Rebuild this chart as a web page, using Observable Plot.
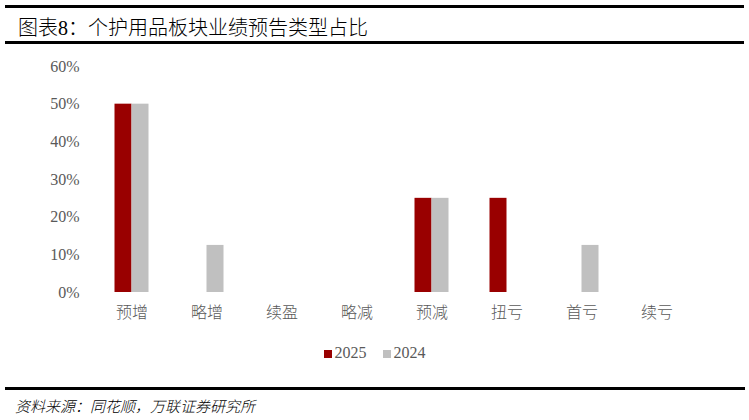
<!DOCTYPE html>
<html>
<head>
<meta charset="utf-8">
<script src="https://cdn.jsdelivr.net/npm/d3@7"></script>
<script src="https://cdn.jsdelivr.net/npm/@observablehq/plot@0.6"></script>
<style>
  html, body { margin: 0; padding: 0; background: #fff; }
  #wrap { position: relative; width: 749px; height: 420px; overflow: hidden; font-family: "Liberation Serif", "Noto Sans CJK SC", serif; }
  #title { position: absolute; left: 5px; top: 5px; width: 739px; height: 33px; border-top: 3px solid #000; border-bottom: 3px solid #000; box-sizing: content-box; }
  #title span { position: absolute; left: 13px; top: 4px; font-size: 20px; font-weight: 300; color: #000; font-family: "Liberation Serif", "Noto Sans CJK SC", serif; white-space: nowrap; }
  #chart { position: absolute; left: 0; top: 45px; }
  #chart svg g[aria-label="y-axis tick label"] text { font-family: "Liberation Serif", serif; }
  #legend { position: absolute; top: 344px; left: 0; width: 749px; text-align: center; font-size: 16px; color: #595959; font-family: "Liberation Serif", serif; }
  #legend .sw { display: inline-block; width: 8px; height: 8px; margin-right: 3px; vertical-align: 0px; }
  #legend .item { margin: 0 8px; }
  #footer { position: absolute; left: 5px; top: 387px; width: 740px; border-top: 3px solid #000; }
  #source { position: absolute; left: 15px; top: 395px; font-size: 15px; font-style: italic; font-weight: 300; color: #000; font-family: "Noto Sans CJK SC", sans-serif; white-space: nowrap; }
</style>
</head>
<body>
<div id="wrap">
  <div id="title"><span>图表8：个护用品板块业绩预告类型占比</span></div>
  <div id="chart"></div>
  <div id="legend"></div>
  <div id="footer"></div>
  <div id="source">资料来源：同花顺，万联证券研究所</div>
</div>
<script>
const categories = ["预增", "略增", "续盈", "略减", "预减", "扭亏", "首亏", "续亏"];
const seriesNames = ["2025", "2024"];
const values2025 = [0.50, 0, 0, 0, 0.25, 0.25, 0, 0];
const values2024 = [0.50, 0.125, 0, 0, 0.25, 0, 0.125, 0];
const yTicks = [0, 0.1, 0.2, 0.3, 0.4, 0.5, 0.6];
const colors = ["#990000", "#C0C0C0"];

const data = [];
categories.forEach((c, i) => {
  data.push({category: c, series: seriesNames[0], value: values2025[i]});
  data.push({category: c, series: seriesNames[1], value: values2024[i]});
});

const plot = Plot.plot({
  width: 749,
  height: 290,
  marginTop: 21,
  marginBottom: 43,
  marginLeft: 93.5,
  marginRight: 55.5,
  style: { fontFamily: '"Liberation Serif", "Noto Sans CJK SC", serif', fontSize: "16px", color: "#595959", background: "#fff" },
  fx: { domain: categories, padding: 0, label: null },
  x: { domain: seriesNames, paddingInner: 0, paddingOuter: 1.143, axis: null },
  y: { domain: [0, 0.6], label: null },
  color: { domain: seriesNames, range: colors },
  marks: [
    Plot.axisY({ ticks: yTicks, tickFormat: d => Math.round(d * 100) + "%", tickSize: 0, tickPadding: 15, label: null, fill: "#595959", fontFamily: "Liberation Serif", fontSize: 16 }),
    Plot.axisFx({ anchor: "bottom", tickSize: 0, tickPadding: 14, label: null, fontFamily: "Noto Sans CJK SC", fontWeight: 300, fontSize: 16, fill: "#595959" }),
    Plot.barY(data, { fx: "category", x: "series", y: "value", fill: "series" })
  ]
});
document.getElementById("chart").appendChild(plot);

const legend = document.getElementById("legend");
seriesNames.forEach((s, i) => {
  const item = document.createElement("span");
  item.className = "item";
  const sw = document.createElement("span");
  sw.className = "sw";
  sw.style.background = colors[i];
  item.appendChild(sw);
  item.appendChild(document.createTextNode(s));
  legend.appendChild(item);
});
</script>
</body>
</html>
